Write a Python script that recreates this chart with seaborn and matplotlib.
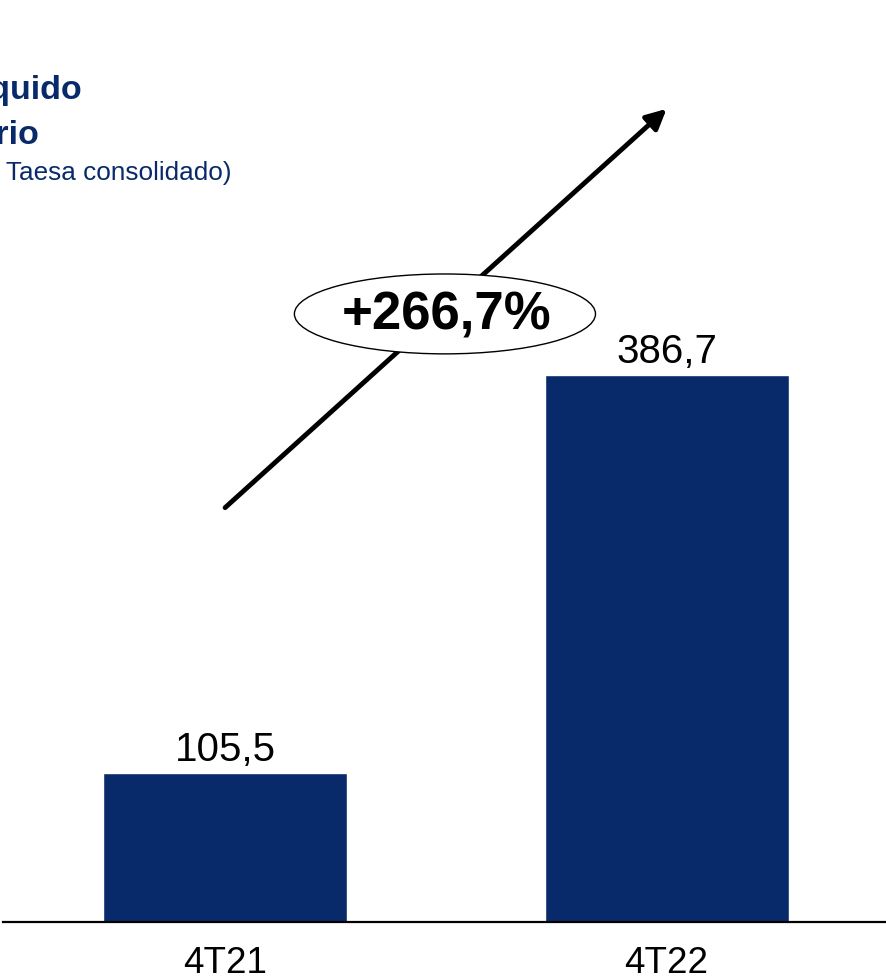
import numpy as np
import pandas as pd
import matplotlib
matplotlib.use("Agg")
import matplotlib.pyplot as plt
import seaborn as sns
from matplotlib.patches import Ellipse
from matplotlib import font_manager

# === DATI ===
trimestri = ["4T21", "4T22"]
valori = [105.5, 386.7]
etichette = ["105,5", "386,7"]
crescita = "+266,7%"

titolo_1 = "Lucro Líquido"
titolo_2 = "Regulatório"
sottotitolo = "(R$ milhões – Taesa consolidado)"

navy = "#082a6b"

sns.set_theme(style="white")
plt.rcParams["font.family"] = ["Liberation Sans", "DejaVu Sans"]

nomi = {f.name for f in font_manager.fontManager.ttflist}
narrow = "Liberation Sans Narrow" if "Liberation Sans Narrow" in nomi else "Liberation Sans"

df = pd.DataFrame({"Trimestre": trimestri, "Valore": valori})

fig = plt.figure(figsize=(8.86, 9.8), dpi=100)
ax = fig.add_axes([0.0034, 0.0592, 0.9966, 0.9408])

sns.barplot(data=df, x="Trimestre", y="Valore", color=navy, saturation=1,
            width=0.553, ax=ax)

ax.set_xlim(-0.503, 1.497)
ax.set_ylim(0, 652)
ax.set_xlabel("")
ax.set_ylabel("")
ax.set_yticks([])
for s in ["top", "right", "left"]:
    ax.spines[s].set_visible(False)
ax.spines["bottom"].set_color("black")
ax.spines["bottom"].set_linewidth(1.6)
ax.tick_params(axis="x", length=0, pad=17)
for lab in ax.get_xticklabels():
    lab.set_fontsize(26.5)
    lab.set_family([narrow, "DejaVu Sans"])
    lab.set_color("black")

ax.bar_label(ax.containers[0], labels=etichette, padding=3, fontsize=29, color="black")

# freccia di crescita
ax.annotate("", xy=(1.0, 575), xytext=(0.0, 293),
            arrowprops=dict(arrowstyle="-|>,head_length=1.0,head_width=0.5",
                            color="black", lw=3.5, shrinkA=0, shrinkB=0))
ax.add_patch(Ellipse((0.498, 430), width=0.682, height=56.5, facecolor="white",
                     edgecolor="black", lw=1.0, zorder=5))
ax.text(0.502, 429, crescita, ha="center", va="center", fontsize=38,
        fontweight="bold", color="black", zorder=6)

# titolo (tagliato a sinistra come nell'originale)
fig.text(82 / 886, 1 - 99 / 980, titolo_1, ha="right", va="baseline",
         fontsize=24.5, fontweight="bold", color=navy)
fig.text(40 / 886, 1 - 144 / 980, titolo_2, ha="right", va="baseline",
         fontsize=24.5, fontweight="bold", color=navy)
fig.text(232 / 886, 1 - 180 / 980, sottotitolo, ha="right", va="baseline",
         fontsize=18.8, color=navy)

fig.savefig("out.png", dpi=100)
